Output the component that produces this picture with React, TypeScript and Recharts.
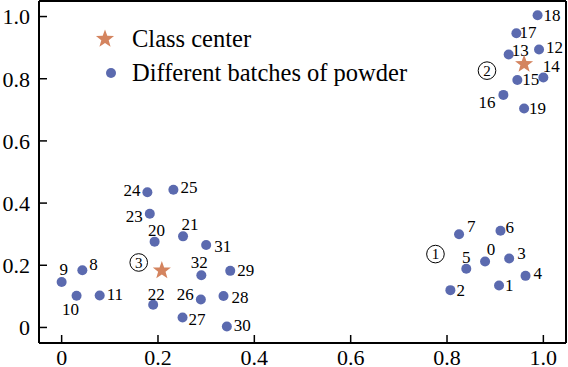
import React from 'react';
import { ScatterChart, Scatter, XAxis, YAxis, ReferenceLine, ReferenceDot, Legend } from 'recharts';

// batch number, x, y of every powder batch
const batchIds = [0, 1, 2, 3, 4, 5, 6, 7, 8, 9, 10, 11, 12, 13, 14, 15, 16, 17, 18, 19, 20, 21, 22, 23, 24, 25, 26, 27, 28, 29, 30, 31, 32];
const batchX = [
  0.879, 0.908, 0.807, 0.929, 0.963, 0.84, 0.911, 0.825, 0.043, 0.0, 0.031, 0.079, 0.991, 0.928, 1.0, 0.946, 0.917,
  0.944, 0.988, 0.96, 0.193, 0.252, 0.19, 0.183, 0.178, 0.232, 0.289, 0.251, 0.336, 0.35, 0.343, 0.3, 0.29,
];
const batchY = [
  0.212, 0.135, 0.12, 0.222, 0.166, 0.189, 0.311, 0.3, 0.184, 0.146, 0.102, 0.103, 0.894, 0.878, 0.804, 0.796, 0.748,
  0.946, 1.004, 0.704, 0.276, 0.293, 0.073, 0.366, 0.435, 0.443, 0.09, 0.032, 0.101, 0.182, 0.003, 0.265, 0.168,
];

// class centres
const centerX = [0.96, 0.208];
const centerY = [0.847, 0.183];

// circled class numbers
const regionNums = ['1', '2', '3'];
const regionX = [0.776, 0.883, 0.16];
const regionY = [0.236, 0.826, 0.209];

const xTicks = [0, 0.2, 0.4, 0.6, 0.8, 1.0];
const yTicks = [0, 0.2, 0.4, 0.6, 0.8, 1.0];

const BLUE = '#5b6aaf';
const ORANGE = '#d4845f';
const FONT = 'Liberation Serif';

// where each batch number sits next to its dot: anchor, dx, dy
const labelPlacement: Record<number, [string, number, number]> = {
  0: ['middle', 6, -12], 1: ['start', 6, 0], 2: ['start', 6, 0], 3: ['start', 8, -5], 4: ['start', 8, -3],
  5: ['middle', 0, -12], 6: ['start', 5, -4], 7: ['start', 8, -8], 8: ['start', 7, -6], 9: ['middle', 2, -13],
  10: ['middle', -6, 13], 11: ['start', 7, -1], 12: ['start', 7, -2], 13: ['start', 3, -4], 14: ['middle', 8, -11],
  15: ['start', 5, -1], 16: ['end', -8, 7], 17: ['start', 3, -1], 18: ['start', 6, 0], 19: ['start', 5, -1],
  20: ['middle', 2, -12], 21: ['middle', 7, -12], 22: ['middle', 3, -11], 23: ['end', -7, 2], 24: ['end', -7, -2],
  25: ['start', 7, -3], 26: ['end', -7, -5], 27: ['start', 6, 2], 28: ['start', 8, 1], 29: ['start', 7, -1],
  30: ['start', 7, -1], 31: ['start', 8, 1], 32: ['middle', -2, -13],
};

const batches = batchIds.map((id, i) => ({ id, x: batchX[i], y: batchY[i] }));
const centers = centerX.map((x, i) => ({ x, y: centerY[i] }));

function starPoints(cx: number, cy: number, R: number, r: number) {
  const pts: string[] = [];
  for (let k = 0; k < 10; k++) {
    const rad = k % 2 === 0 ? R : r;
    const a = -Math.PI / 2 + (k * Math.PI) / 5;
    pts.push(`${cx + rad * Math.cos(a)},${cy + rad * Math.sin(a)}`);
  }
  return pts.join(' ');
}

function BatchDot(props: any) {
  const { cx, cy, payload } = props;
  const [anchor, dx, dy] = labelPlacement[payload.id] ?? ['start', 7, 0];
  return (
    <g>
      <circle cx={cx} cy={cy} r={5} fill={BLUE} />
      <text x={cx + dx} y={cy + dy} dy="0.35em" textAnchor={anchor as any} fontSize={17} fontFamily={FONT} fill="#000">
        {String(payload.id)}
      </text>
    </g>
  );
}

function CenterStar(props: any) {
  const { cx, cy } = props;
  return <polygon points={starPoints(cx, cy, 9.5, 3.9)} fill={ORANGE} />;
}

function circledNum(n: string) {
  return (props: any) => (
    <g>
      <circle cx={props.cx} cy={props.cy} r={8.8} fill="#fff" stroke="#000" strokeWidth={1} />
      <text x={props.cx} y={props.cy} dy="0.35em" textAnchor="middle" fontSize={15} fontFamily={FONT} fill="#000">
        {n}
      </text>
    </g>
  );
}

function renderLegend() {
  const row: React.CSSProperties = { display: 'flex', alignItems: 'center', height: 34 };
  const label: React.CSSProperties = { fontFamily: FONT, fontSize: 24.5, color: '#000', whiteSpace: 'nowrap' };
  return (
    <div>
      <div style={row}>
        <svg width={40} height={34}>
          <polygon points={starPoints(13, 17, 9.5, 3.9)} fill={ORANGE} />
        </svg>
        <span style={label}>Class center</span>
      </div>
      <div style={row}>
        <svg width={40} height={34}>
          <circle cx={19} cy={17} r={5} fill={BLUE} />
        </svg>
        <span style={label}>Different batches of powder</span>
      </div>
    </div>
  );
}

const fmt = (v: number) => (v === 0 ? '0' : v.toFixed(1));

export default function App() {
  return (
    <div style={{ position: 'absolute', left: 0, top: 0, background: '#fff', fontFamily: FONT }}>
      <ScatterChart width={568} height={367} margin={{ top: 1, right: 2, left: 0, bottom: 0 }}>
        <XAxis
          type="number"
          dataKey="x"
          domain={[-0.047, 1.047]}
          allowDataOverflow
          ticks={xTicks}
          tickFormatter={fmt}
          height={24}
          tickSize={-8}
          tickMargin={14}
          axisLine={{ stroke: '#000', strokeWidth: 2 }}
          tickLine={{ stroke: '#000', strokeWidth: 1.5 }}
          tick={{ fill: '#000', fontSize: 22, fontFamily: FONT }}
        />
        <YAxis
          type="number"
          dataKey="y"
          domain={[-0.05, 1.05]}
          allowDataOverflow
          ticks={yTicks}
          tickFormatter={fmt}
          width={39}
          tickSize={-8}
          tickMargin={17}
          axisLine={{ stroke: '#000', strokeWidth: 2 }}
          tickLine={{ stroke: '#000', strokeWidth: 1.5 }}
          tick={{ fill: '#000', fontSize: 22, fontFamily: FONT }}
        />
        <ReferenceLine y={1.05} stroke="#000" strokeWidth={2} />
        <ReferenceLine x={1.047} stroke="#000" strokeWidth={2} />
        <Legend
          layout="vertical"
          align="center"
          verticalAlign="middle"
          content={renderLegend}
          wrapperStyle={{ left: 92, top: 22 }}
        />
        {regionNums.map((n, i) => (
          <ReferenceDot key={n} x={regionX[i]} y={regionY[i]} r={9} shape={circledNum(n)} />
        ))}
        <Scatter name="Different batches of powder" data={batches} shape={BatchDot} isAnimationActive={false} />
        <Scatter name="Class center" data={centers} shape={CenterStar} isAnimationActive={false} />
      </ScatterChart>
    </div>
  );
}
